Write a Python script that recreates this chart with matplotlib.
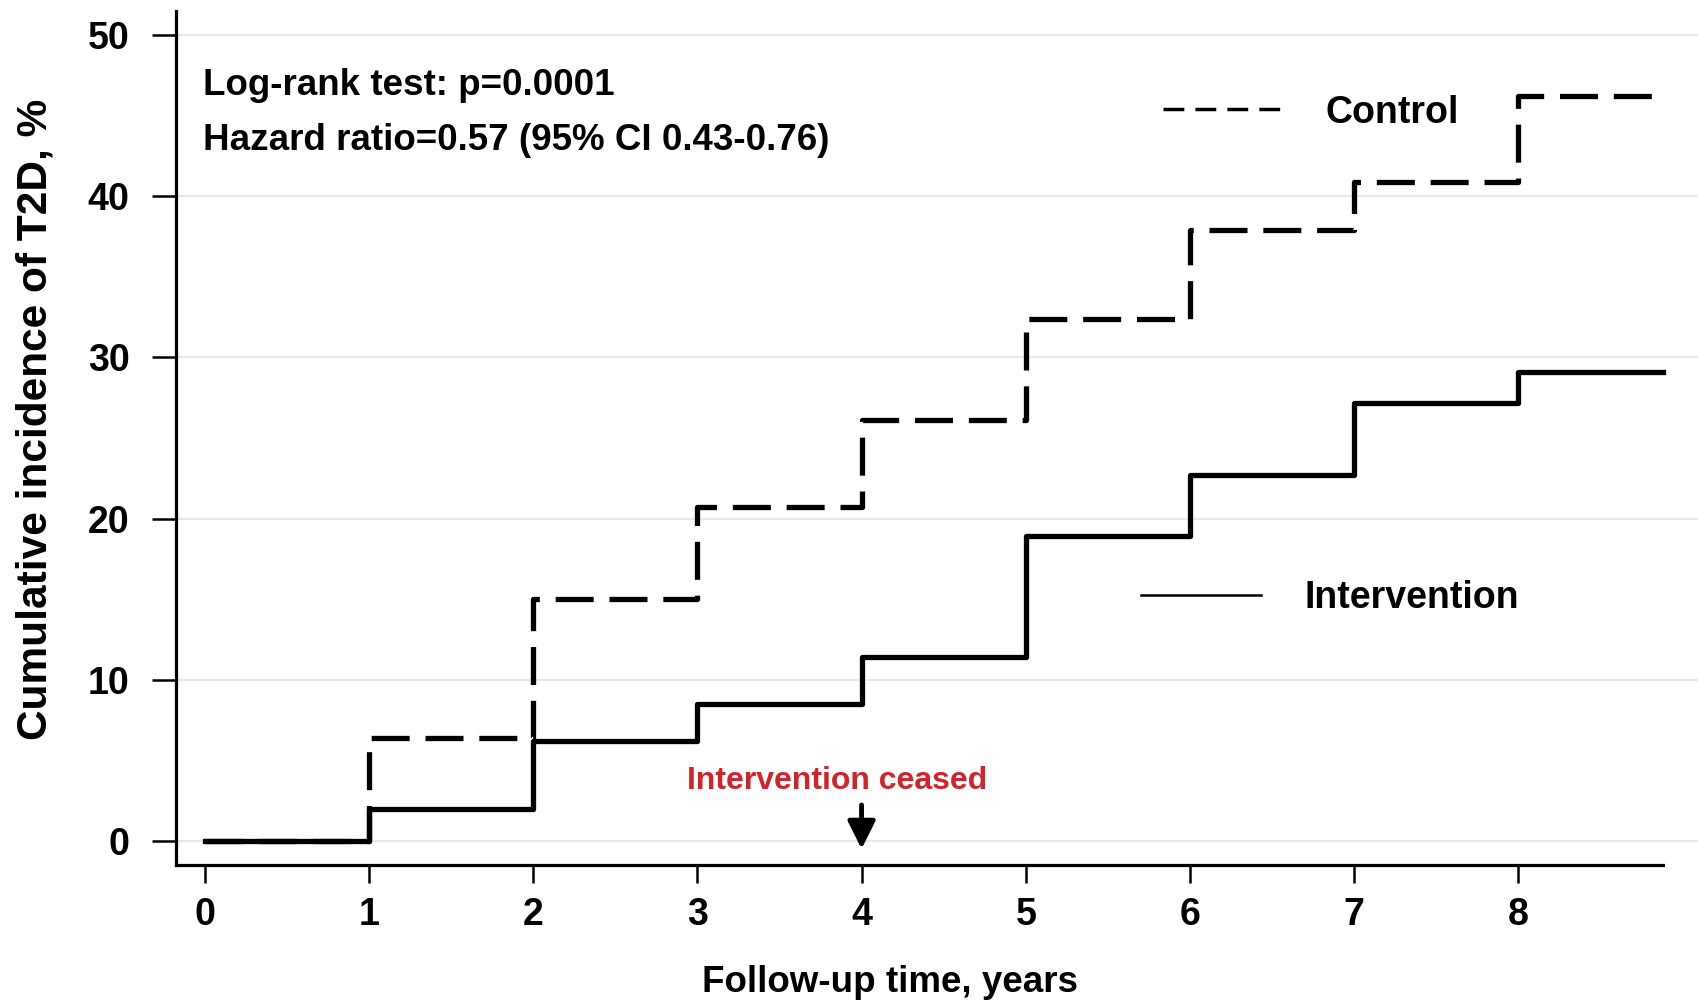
import matplotlib
matplotlib.use("Agg")
import matplotlib.pyplot as plt
from matplotlib.lines import Line2D

plt.rcParams["font.family"] = ["Liberation Sans", "DejaVu Sans"]
plt.rcParams["font.weight"] = "bold"

# step values (cumulative incidence %, value held from each year onward)
years = [0, 1, 2, 3, 4, 5, 6, 7, 8, 8.88]
control = [0, 6.4, 15.0, 20.7, 26.1, 32.4, 37.9, 40.9, 46.2, 46.2]
intervention = [0, 1.95, 6.2, 8.5, 11.4, 18.95, 22.7, 27.15, 29.1, 29.1]
x_ticks = [0, 1, 2, 3, 4, 5, 6, 7, 8]
y_ticks = [0, 10, 20, 30, 40, 50]

fig = plt.figure(figsize=(16.99, 10.02), dpi=100)
ax = fig.add_axes([0.1033, 0.137, 0.8967, 0.852])

for y in y_ticks:
    ax.axhline(y, color="#e6e6e6", lw=1.3, zorder=0)

ax.step(years, control, where="post", color="black", lw=3.8,
        dashes=(7.2, 3.0))
ax.step(years, intervention, where="post", color="black", lw=3.8)

ax.set_xlim(-0.178, 9.10)
ax.set_ylim(-1.48, 51.5)
ax.set_xticks(x_ticks)
ax.set_yticks(y_ticks)
ax.tick_params(axis="y", length=17, width=1.8, pad=16, labelsize=27)
ax.tick_params(axis="x", length=13, width=1.8, pad=10, labelsize=27)
for lab in ax.get_xticklabels() + ax.get_yticklabels():
    lab.set_fontweight("bold")
ax.spines["top"].set_visible(False)
ax.spines["right"].set_visible(False)
ax.spines["left"].set_linewidth(2.3)
ax.spines["bottom"].set_linewidth(2.3)
ax.spines["bottom"].set_bounds(-0.178, 8.88)

ax.text(0.0178, 0.9126, "Log-rank test: p=0.0001", transform=ax.transAxes,
        fontsize=26.5, fontweight="bold", va="center", ha="left")
ax.text(0.0178, 0.848, "Hazard ratio=0.57 (95% CI 0.43-0.76)", transform=ax.transAxes,
        fontsize=26.5, fontweight="bold", va="center", ha="left")

# two separate legend entries
h_ctrl = Line2D([], [], color="black", lw=2.5, dashes=(6, 3.2))
h_int = Line2D([], [], color="black", lw=1.8)
leg1 = ax.legend([h_ctrl], ["Control"], loc="center left", bbox_to_anchor=(0.648, 0.881),
                 frameon=False, handlelength=3.2, handletextpad=1.15,
                 borderpad=0, borderaxespad=0, prop={"weight": "bold", "size": 27})
ax.add_artist(leg1)
ax.legend([h_int], ["Intervention"], loc="center left", bbox_to_anchor=(0.634, 0.312),
          frameon=False, handlelength=3.2, handletextpad=1.15,
          borderpad=0, borderaxespad=0, prop={"weight": "bold", "size": 27})

ax.annotate("", xy=(4, -0.67), xytext=(4, 2.4),
            arrowprops=dict(arrowstyle="-|>", color="black", lw=3.5, mutation_scale=42))
ax.text(3.85, 3.7, "Intervention ceased", color="#d0232a", fontsize=23,
        fontweight="bold", ha="center", va="center")

fig.text(0.021, 0.581, "Cumulative incidence of T2D, %", rotation=90,
         fontsize=30.5, fontweight="bold", ha="center", va="center")
fig.text(0.524, 0.0193, "Follow-up time, years", fontsize=26.5,
         fontweight="bold", ha="center", va="center")

fig.savefig("out.png", dpi=100)
